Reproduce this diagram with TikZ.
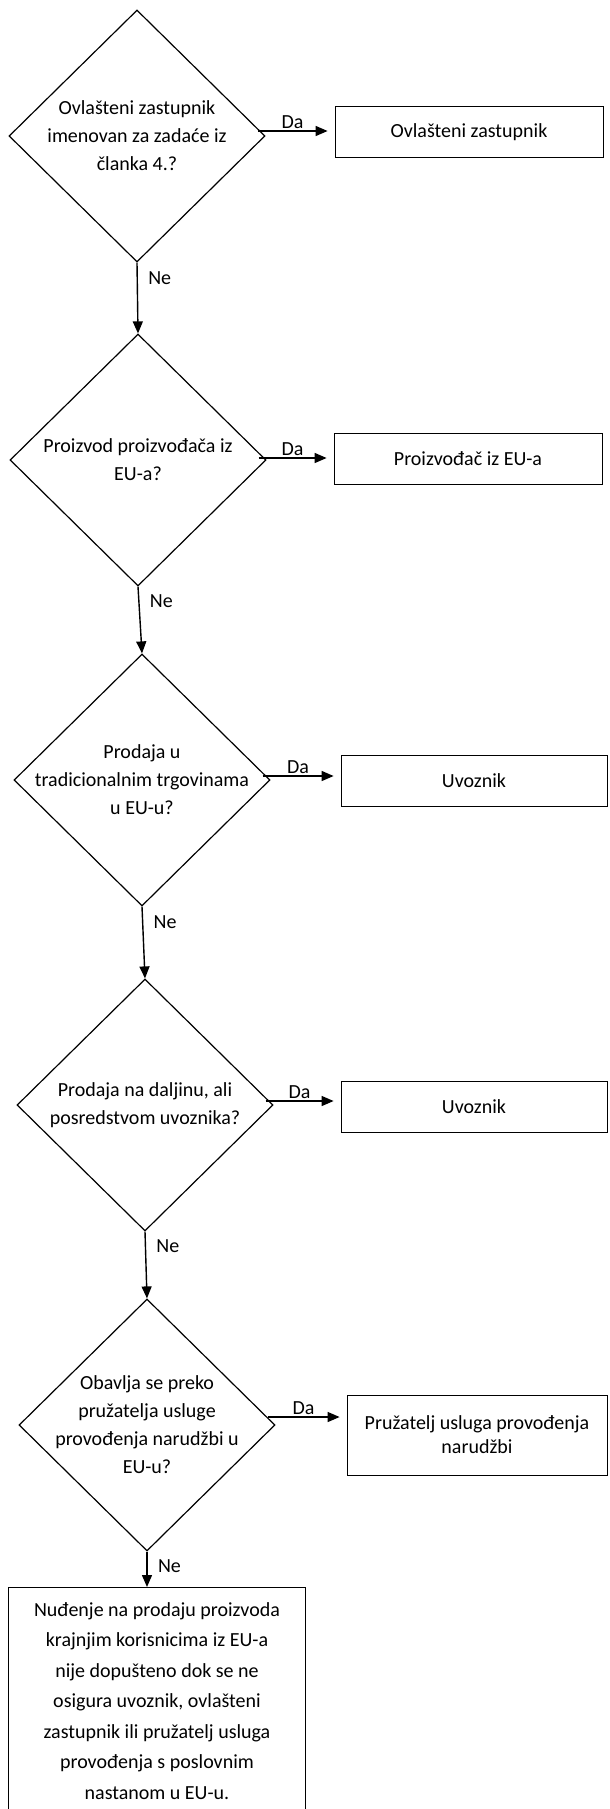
\documentclass[tikz,border=0pt]{standalone}
\usepackage{fontspec}
\setmainfont{Carlito}
\usetikzlibrary{shapes.geometric,arrows.meta}

\begin{document}
\begin{tikzpicture}[x=1pt,y=-1pt, every node/.style={font=\fontsize{20}{28}\selectfont},
  question/.style={draw,diamond,line width=1.2pt,inner sep=-40pt,minimum width=256pt,minimum height=252pt,align=center},
  answer/.style={draw,line width=0.8pt,minimum width=268pt,minimum height=51pt,align=center},
  arr/.style={-{Triangle[length=12pt,width=10pt]},line width=1.4pt}]
\useasboundingbox (0,0) rectangle (610,1809);
\node[question] (q1) at (137,136) {Ovlašteni zastupnik\\imenovan za zadaće iz\\članka 4.?};
\node[answer] (a1) at (469,132) {Ovlašteni zastupnik};
\node[question] (q2) at (138,460) {Proizvod proizvođača iz\\EU-a?};
\node[answer] (a2) at (468,459) {Proizvođač iz EU-a};
\node[question] (q3) at (142,780) {Prodaja u\\tradicionalnim trgovinama\\u EU-u?};
\node[answer,minimum width=266pt] (a3) at (474,781) {Uvoznik};
\node[question] (q4) at (145,1105) {Prodaja na daljinu, ali\\posredstvom uvoznika?};
\node[answer,minimum width=266pt] (a4) at (474,1107) {Uvoznik};
\node[question] (q5) at (147,1425) {Obavlja se preko\\pružatelja usluge\\provođenja narudžbi u\\EU-u?};
\node[answer,minimum width=260pt,minimum height=80pt,font=\fontsize{20}{24}\selectfont] (a5) at (477,1435) {Pružatelj usluga provođenja\\narudžbi};
\node[answer,anchor=north,minimum width=297pt,inner ysep=15pt,font=\fontsize{20}{30.5}\selectfont] (none) at (157,1587) {Nuđenje na prodaju proizvoda\\krajnjim korisnicima iz EU-a\\nije dopušteno dok se ne\\osigura uvoznik, ovlašteni\\zastupnik ili pružatelj usluga\\provođenja s poslovnim\\nastanom u EU-u.};
% Da
\draw[arr] ([xshift=-8pt,yshift=5pt]q1.east) -- node[above=-2pt] {Da} ([xshift=-7pt,yshift=5pt]q1.east -| a1.west);
\draw[arr] ([xshift=-8pt,yshift=2pt]q2.east) -- node[above=-2pt] {Da} ([xshift=-7pt,yshift=2pt]q2.east -| a2.west);
\draw[arr] ([xshift=-8pt,yshift=4pt]q3.east) -- node[above=-2pt] {Da} ([xshift=-7pt,yshift=4pt]q3.east -| a3.west);
\draw[arr] ([xshift=-8pt,yshift=4pt]q4.east) -- node[above=-2pt] {Da} ([xshift=-7pt,yshift=4pt]q4.east -| a4.west);
\draw[arr] ([xshift=-8pt,yshift=8pt]q5.east) -- node[above=-2pt] {Da} ([xshift=-7pt,yshift=8pt]q5.east -| a5.west);
% Ne
\draw[arr] (q1.south) -- node[pos=0.22,right=7pt] {Ne} (q2.north);
\draw[arr] (q2.south) -- node[pos=0.22,right=7pt] {Ne} (q3.north);
\draw[arr] (q3.south) -- node[pos=0.22,right=7pt] {Ne} (q4.north);
\draw[arr] (q4.south) -- node[pos=0.22,right=7pt] {Ne} (q5.north);
\draw[arr] (q5.south) -- node[pos=0.4,right=7pt] {Ne} (q5.south |- none.north);
\end{tikzpicture}
\end{document}
